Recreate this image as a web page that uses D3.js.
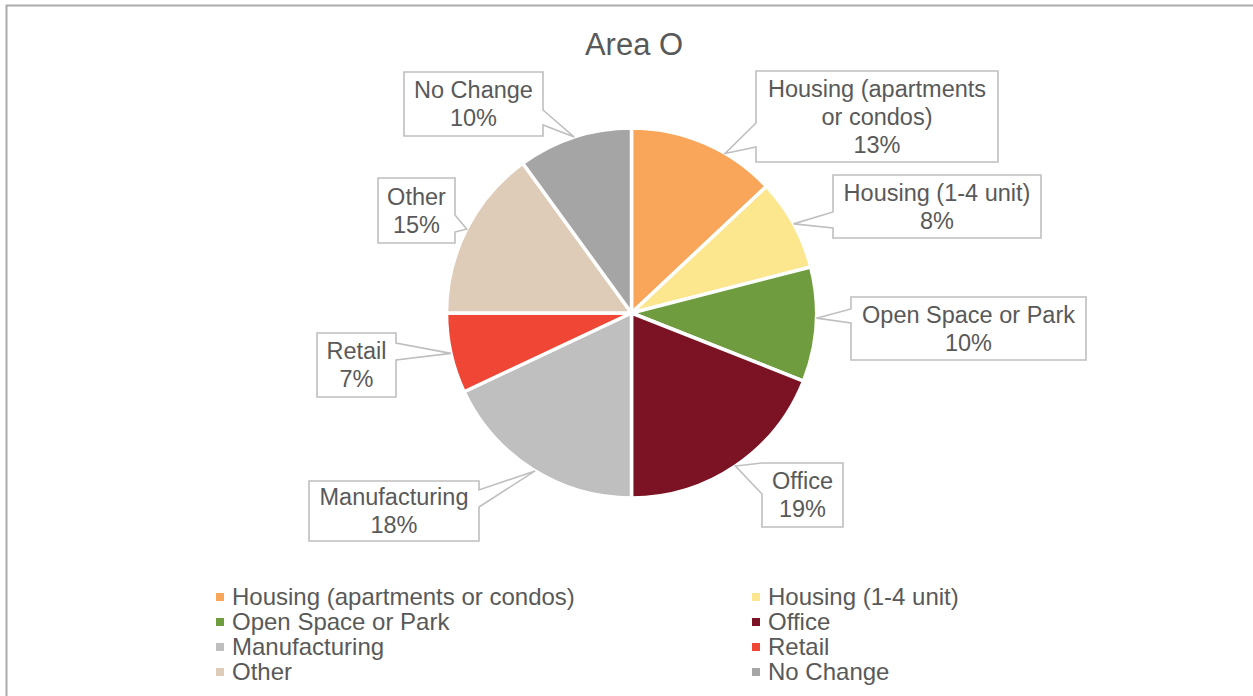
<!DOCTYPE html>
<html>
<head>
<meta charset="utf-8">
<script src="https://cdn.jsdelivr.net/npm/d3@7"></script>
<style>
  html, body { margin: 0; padding: 0; background: #fff; }
  svg { display: block; font-family: "Liberation Sans", Arial, sans-serif; }
</style>
</head>
<body>
<svg id="chart" width="1253" height="696"></svg>
<script>
// Land-use shares for Area O
const categories = [
  "Housing (apartments or condos)",
  "Housing (1-4 unit)",
  "Open Space or Park",
  "Office",
  "Manufacturing",
  "Retail",
  "Other",
  "No Change"
];
const shares = [13, 8, 10, 19, 18, 7, 15, 10];
const colors = ["#F9A65A", "#FCE68E", "#6F9C3E", "#7C1325", "#BFBFBF", "#EF4636", "#DFCCB8", "#A5A5A5"];
// Label text lines (the last line holds the percentage)
const labelLines = [
  ["Housing (apartments", "or condos)"],
  ["Housing (1-4 unit)"],
  ["Open Space or Park"],
  ["Office"],
  ["Manufacturing"],
  ["Retail"],
  ["Other"],
  ["No Change"]
];

// Callout boxes: rectangle, side of the pointer, pointer base span, tip angle shift (deg)
const callouts = [
  { x: 756, y: 71,  w: 242, h: 91, side: "left",  b1: 123, b2: 147, shift: 7 },
  { x: 833, y: 175, w: 208, h: 63, side: "left",  b1: 212, b2: 228, shift: 0 },
  { x: 851, y: 297, w: 235, h: 63, side: "left",  b1: 309, b2: 323, shift: -2 },
  { x: 762, y: 463, w: 81,  h: 64, side: "left",  b1: 463, b2: 494, shift: 0 },
  { x: 309, y: 481, w: 170, h: 60, side: "right", b1: 490, b2: 507, shift: -1 },
  { x: 317, y: 333, w: 79,  h: 64, side: "right", b1: 343, b2: 360, shift: 0 },
  { x: 378, y: 178, w: 77,  h: 65, side: "right", b1: 215, b2: 232, shift: 0 },
  { x: 404, y: 72,  w: 139, h: 64, side: "right", b1: 110, b2: 125, shift: 0 }
];

const svg = d3.select("#chart");
const textColor = "#595959";
const lineColor = "#BFBFBF";

// Outer chart frame
svg.append("rect")
  .attr("x", 6.5).attr("y", 5.5)
  .attr("width", 1260).attr("height", 720)
  .attr("fill", "none").attr("stroke", "#ABABAB").attr("stroke-width", 2);

// Title
svg.append("text")
  .attr("x", 634).attr("y", 55)
  .attr("text-anchor", "middle")
  .attr("font-size", 31)
  .attr("fill", textColor)
  .text("Area O");

const cx = 631.5, cy = 313, r = 185;
const pie = d3.pie().sort(null).value(d => d)(shares);
const arc = d3.arc().innerRadius(0).outerRadius(r);

const g = svg.append("g").attr("transform", `translate(${cx},${cy})`);
g.selectAll("path.slice")
  .data(pie)
  .join("path")
  .attr("class", "slice")
  .attr("d", arc)
  .attr("fill", (d, i) => colors[i])
  .attr("stroke", "#fff")
  .attr("stroke-width", 3.5)
  .attr("stroke-linejoin", "round");

// Data callouts
const labels = svg.append("g");
pie.forEach((d, i) => {
  const c = callouts[i];
  const a = (d.startAngle + d.endAngle) / 2 + c.shift * Math.PI / 180;
  const tx = cx + r * Math.sin(a);
  const ty = cy - r * Math.cos(a);
  let p;
  if (c.side === "left") {
    p = `M${c.x},${c.y} H${c.x + c.w} V${c.y + c.h} H${c.x} V${c.b2} L${tx},${ty} L${c.x},${c.b1} Z`;
  } else {
    const xr = c.x + c.w;
    p = `M${c.x},${c.y} H${xr} V${c.b1} L${tx},${ty} L${xr},${c.b2} V${c.y + c.h} H${c.x} Z`;
  }
  labels.append("path")
    .attr("d", p)
    .attr("fill", "#fff")
    .attr("stroke", lineColor)
    .attr("stroke-width", 1.6)
    .attr("stroke-linejoin", "miter");

  const lines = labelLines[i].concat([shares[i] + "%"]);
  const lh = 28;
  const midY = c.y + c.h / 2;
  const firstY = midY - (lines.length - 1) * lh / 2;
  const t = labels.append("text")
    .attr("text-anchor", "middle")
    .attr("font-size", 23.5)
    .attr("fill", textColor);
  lines.forEach((s, k) => {
    t.append("tspan")
      .attr("x", c.x + c.w / 2)
      .attr("y", firstY + k * lh)
      .attr("dy", "0.35em")
      .text(s);
  });
});

// Legend, two columns
const legendCols = [219, 755];
const legendTop = 597, legendStep = 25;
const legend = svg.append("g");
categories.forEach((name, i) => {
  const col = i % 2, row = Math.floor(i / 2);
  const x = legendCols[col], y = legendTop + row * legendStep;
  legend.append("rect")
    .attr("x", x - 3).attr("y", y - 4)
    .attr("width", 8).attr("height", 8)
    .attr("fill", colors[i]);
  legend.append("text")
    .attr("x", x + 13).attr("y", y)
    .attr("dy", "0.35em")
    .attr("font-size", 24)
    .attr("fill", textColor)
    .text(name);
});
</script>
</body>
</html>
